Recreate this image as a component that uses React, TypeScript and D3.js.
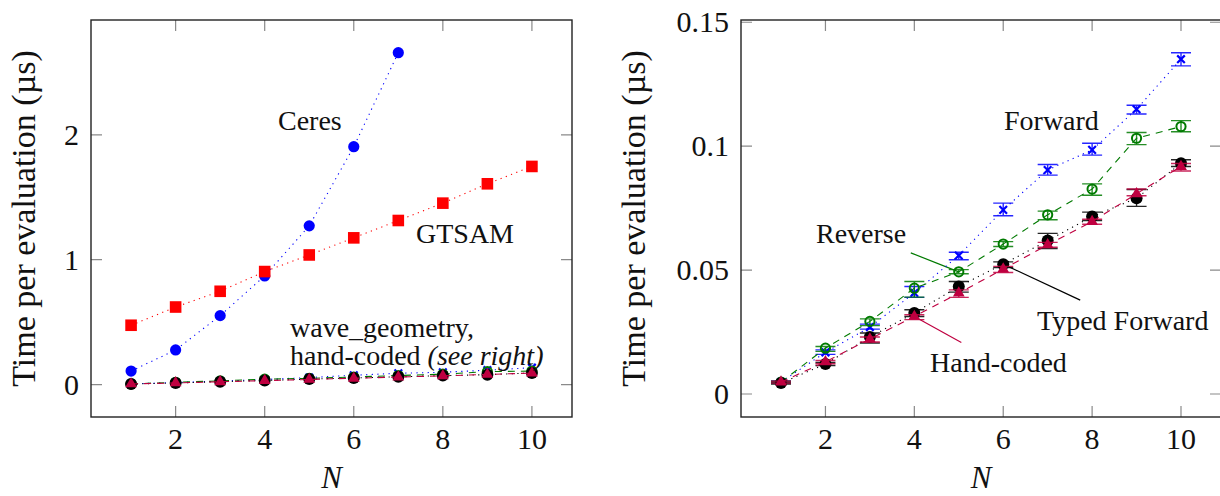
import React from 'react';
import * as d3 from 'd3';

const W = 1220;
const H = 496;
const FONT = "'Liberation Serif', 'DejaVu Serif', 'Times New Roman', Times, serif";

// x values shared by every series
const N = [1, 2, 3, 4, 5, 6, 7, 8, 9, 10];
const X_TICKS = [2, 4, 6, 8, 10];

// left panel
const CERES_N = [1, 2, 3, 4, 5, 6, 7];
const CERES = [0.108, 0.277, 0.552, 0.87, 1.271, 1.905, 2.658];
const GTSAM = [0.475, 0.621, 0.747, 0.905, 1.038, 1.175, 1.314, 1.453, 1.608, 1.747];
const LEFT_Y_TICKS = [0, 1, 2];

// right panel (mean, lower and upper end of error bar)
const FORWARD = [0.0048, 0.0168, 0.027, 0.0408, 0.0559, 0.0743, 0.0904, 0.0985, 0.1149, 0.1351];
const FORWARD_LO = [0.0043, 0.016, 0.0262, 0.039, 0.0542, 0.0719, 0.0883, 0.0964, 0.113, 0.1324];
const FORWARD_HI = [0.0053, 0.0178, 0.0282, 0.0434, 0.0572, 0.077, 0.0926, 0.1012, 0.1165, 0.1377];

const REVERSE = [0.0048, 0.0185, 0.0293, 0.0427, 0.0493, 0.0605, 0.0723, 0.0827, 0.1032, 0.1079];
const REVERSE_LO = [0.0044, 0.0172, 0.0276, 0.0391, 0.0485, 0.0595, 0.0703, 0.0802, 0.1006, 0.1058];
const REVERSE_HI = [0.0052, 0.0192, 0.0303, 0.0454, 0.0502, 0.0615, 0.0738, 0.0848, 0.1055, 0.1103];

const TYPED = [0.0044, 0.0121, 0.023, 0.0327, 0.0434, 0.0524, 0.0619, 0.0716, 0.079, 0.0931];
const TYPED_LO = [0.004, 0.0115, 0.0206, 0.0313, 0.0411, 0.051, 0.0587, 0.07, 0.0757, 0.0918];
const TYPED_HI = [0.0048, 0.0127, 0.0246, 0.034, 0.0454, 0.0533, 0.0648, 0.0734, 0.0825, 0.0945];

const HAND = [0.0048, 0.013, 0.0222, 0.0313, 0.0407, 0.0504, 0.0602, 0.0696, 0.0808, 0.0918];
const HAND_LO = [0.0044, 0.0122, 0.021, 0.03, 0.039, 0.049, 0.0592, 0.0685, 0.08, 0.09];
const HAND_HI = [0.0052, 0.0135, 0.023, 0.032, 0.042, 0.0515, 0.0612, 0.0705, 0.0827, 0.093];

const RIGHT_Y_TICKS = [0, 0.05, 0.1, 0.15];
const RIGHT_Y_LABELS = ['0', '0.05', '0.1', '0.15'];

const BLUE = '#0000ff';
const RED = '#ff0000';
const GREEN = '#007a00';
const CRIMSON = '#bf0040';
const DOTTED = '1.2 4.4';
const DASHED = '7 6';

const WAVE = [
  { name: 'Forward', mean: FORWARD, lo: FORWARD_LO, hi: FORWARD_HI, color: BLUE, dash: DOTTED, mark: 'x' },
  { name: 'Reverse', mean: REVERSE, lo: REVERSE_LO, hi: REVERSE_HI, color: GREEN, dash: DASHED, mark: 'o' },
  { name: 'Typed Forward', mean: TYPED, lo: TYPED_LO, hi: TYPED_HI, color: '#000', dash: DOTTED, mark: '*' },
  { name: 'Hand-coded', mean: HAND, lo: HAND_LO, hi: HAND_HI, color: CRIMSON, dash: DASHED, mark: 'tri' }
];

const LEFT = { l: 91, r: 572, t: 20, b: 417 };
const RIGHT = { l: 741, r: 1221, t: 20, b: 417 };

const xL = d3.scaleLinear().domain([0.1, 10.9]).range([LEFT.l, LEFT.r]);
const yL = d3.scaleLinear().domain([-0.26, 2.92]).range([LEFT.b, LEFT.t]);
const xR = d3.scaleLinear().domain([0.1, 10.9]).range([RIGHT.l, RIGHT.r]);
const yR = d3.scaleLinear().domain([-0.00927, 0.1509]).range([RIGHT.b, RIGHT.t]);

/**
 * One marker at a pixel position
 */
function Mark({ kind, x, y, color }) {
  if (kind === 'circle') return <circle cx={x} cy={y} r={5.6} fill={color} />;
  if (kind === 'square') return <rect x={x - 5.8} y={y - 5.8} width={11.6} height={11.6} fill={color} />;
  if (kind === '*') return <circle cx={x} cy={y} r={6} fill={color} />;
  if (kind === 'o') return <circle cx={x} cy={y} r={4.6} fill='none' stroke={color} strokeWidth={2} />;
  if (kind === 'x') {
    let s = 3.8;
    return <path d={`M${x - s},${y - s}L${x + s},${y + s}M${x - s},${y + s}L${x + s},${y - s}`} stroke={color} strokeWidth={2.2} />;
  }
  let R = 6.8;
  let pts = [-90, 30, 150].map((a) => [x + R * Math.cos(a * Math.PI / 180), y + R * Math.sin(a * Math.PI / 180)]);
  return <path d={'M' + pts.map((p) => p.join(',')).join('L') + 'Z'} fill={color} />;
}

/**
 * Plain line plus its markers
 */
function Series({ xs, ys, x, y, color, dash, mark, lo, hi }) {
  let line = d3.line().x((d) => x(d[0])).y((d) => y(d[1]));
  let pts = xs.map((v, i) => [v, ys[i]]);
  return <g>
    <path d={line(pts)} fill='none' stroke={color} strokeWidth={1.1} strokeDasharray={dash} />
    { lo ? xs.map((v, i) =>
      <path key={'e' + i} d={`M${x(v) - 10},${y(lo[i])}H${x(v) + 10}M${x(v) - 10},${y(hi[i])}H${x(v) + 10}M${x(v)},${y(lo[i])}V${y(hi[i])}`}
        stroke={color} strokeWidth={1.4} strokeOpacity={0.85} fill='none' />
    ) : null }
    { pts.map((p, i) => <Mark key={i} kind={mark} x={x(p[0])} y={y(p[1])} color={color} />) }
  </g>;
}

/**
 * Frame, ticks on all four sides, tick labels and axis labels
 */
function Frame({ box, x, y, yTicks, yLabels, labelOffset }) {
  let T = 11;
  let cx = (box.l + box.r) / 2;
  let cy = (box.t + box.b) / 2;
  return <g>
    { X_TICKS.map((t) => <g key={'x' + t}>
      <path d={`M${x(t)},${box.b}V${box.b - T}M${x(t)},${box.t}V${box.t + T}`} stroke='#8a8a8a' strokeWidth={1.2} />
      <text x={x(t)} y={449} textAnchor='middle' fontSize={30}>{t}</text>
    </g>) }
    { yTicks.map((t, i) => <g key={'y' + t}>
      <path d={`M${box.l},${y(t)}H${box.l + T}M${box.r},${y(t)}H${box.r - T}`} stroke='#8a8a8a' strokeWidth={1.2} />
      <text x={box.l - 12} y={y(t) + 10} textAnchor='end' fontSize={30}>{yLabels[i]}</text>
    </g>) }
    <rect x={box.l} y={box.t} width={box.r - box.l} height={box.b - box.t} fill='none' stroke='#222' strokeWidth={1.4} />
    <text x={cx} y={488} textAnchor='middle' fontSize={31} fontStyle='italic'>N</text>
    <text transform={`translate(${box.l - labelOffset},${cy}) rotate(-90)`} textAnchor='middle' fontSize={34}>
      Time per evaluation (µs)
    </text>
  </g>;
}

export default function App() {
  return <svg width={W} height={H} style={{ position: 'absolute', left: 0, top: 0, background: '#fff', fontFamily: FONT }} fill='#111'>
    {/* left panel */}
    <Series xs={CERES_N} ys={CERES} x={xL} y={yL} color={BLUE} dash={DOTTED} mark='circle' />
    <Series xs={N} ys={GTSAM} x={xL} y={yL} color={RED} dash={DOTTED} mark='square' />
    { WAVE.map((s) => <Series key={s.name} xs={N} ys={s.mean} x={xL} y={yL} color={s.color} dash={s.dash} mark={s.mark} />) }
    <Frame box={LEFT} x={xL} y={yL} yTicks={LEFT_Y_TICKS} yLabels={LEFT_Y_TICKS.map(String)} labelOffset={56.5} />
    <g fontSize={28}>
      <text x={278} y={130}>Ceres</text>
      <text x={416} y={243}>GTSAM</text>
      <text x={290} y={337}>wave_geometry,</text>
      <text x={290} y={365}>hand-coded <tspan fontStyle='italic'>(see right)</tspan></text>
    </g>

    {/* right panel */}
    <path d={`M${xR(5) - 48},${yR(REVERSE[4]) - 19}L${xR(5)},${yR(REVERSE[4])}`} stroke={GREEN} strokeWidth={1.2} />
    <path d={`M${xR(6)},${yR(TYPED[5])}L${xR(6) + 77},${yR(TYPED[5]) + 36}`} stroke='#000' strokeWidth={1.2} />
    <path d={`M${xR(4)},${yR(HAND[3])}L${xR(4) + 47},${yR(HAND[3]) + 26}`} stroke={CRIMSON} strokeWidth={1.2} />
    { WAVE.map((s) => <Series key={s.name} xs={N} ys={s.mean} lo={s.lo} hi={s.hi} x={xR} y={yR} color={s.color} dash={s.dash} mark={s.mark} />) }
    <Frame box={RIGHT} x={xR} y={yR} yTicks={RIGHT_Y_TICKS} yLabels={RIGHT_Y_LABELS} labelOffset={96} />
    <g fontSize={28}>
      <text x={1004} y={130}>Forward</text>
      <text x={816} y={243}>Reverse</text>
      <text x={1037} y={330}>Typed Forward</text>
      <text x={930} y={372}>Hand-coded</text>
    </g>
  </svg>;
}
